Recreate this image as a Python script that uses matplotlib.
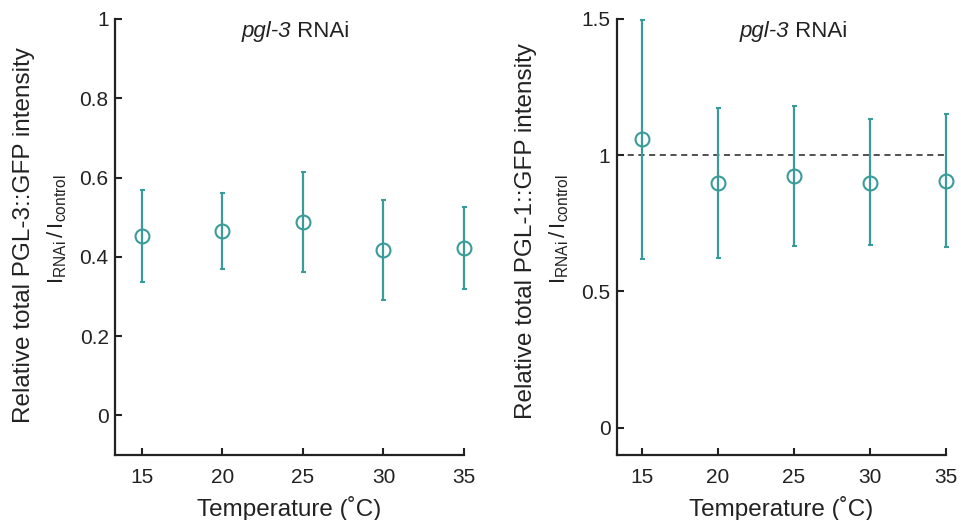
import numpy as np
import matplotlib
matplotlib.use('Agg')
import matplotlib.pyplot as plt

plt.rcParams['font.family'] = ['Liberation Sans', 'DejaVu Sans']
plt.rcParams['mathtext.fontset'] = 'custom'
plt.rcParams['mathtext.rm'] = 'Liberation Sans'
plt.rcParams['mathtext.it'] = 'Liberation Sans:italic'

# temperatures (deg C)
temps = [15, 20, 25, 30, 35]

# left panel: PGL-3::GFP, pgl-3 RNAi
pgl3_mean = [0.452, 0.465, 0.488, 0.418, 0.422]
pgl3_low = [0.336, 0.368, 0.361, 0.292, 0.319]
pgl3_high = [0.568, 0.561, 0.614, 0.543, 0.525]

# right panel: PGL-1::GFP, pgl-3 RNAi
pgl1_mean = [1.059, 0.899, 0.924, 0.899, 0.906]
pgl1_low = [0.620, 0.624, 0.668, 0.670, 0.662]
pgl1_high = [1.497, 1.175, 1.181, 1.134, 1.153]

teal = '#3a9c9a'
dark = '#222222'

fig = plt.figure(figsize=(9.62, 5.2), dpi=100)
ax1 = fig.add_axes([0.1195, 0.125, 0.3628, 0.8385])
ax2 = fig.add_axes([0.641, 0.125, 0.3423, 0.8385])


def draw_panel(ax, mean, low, high, ylim, yticks, yticklabels, title_x):
    mean = np.array(mean)
    yerr = [mean - np.array(low), np.array(high) - mean]
    ax.errorbar(temps, mean, yerr=yerr, fmt='o', color=teal, mfc='none',
                mec=teal, ms=10, mew=1.5, elinewidth=1.6, capsize=1.8,
                capthick=1.5, clip_on=False, zorder=3)
    ax.set_xlim(13.33, 35)
    ax.set_ylim(*ylim)
    ax.set_xticks(temps)
    ax.set_yticks(yticks)
    ax.set_yticklabels(yticklabels)
    for s in ['top', 'right']:
        ax.spines[s].set_visible(False)
    for s in ['left', 'bottom']:
        ax.spines[s].set_linewidth(1.6)
        ax.spines[s].set_color(dark)
    ax.tick_params(direction='in', length=5, width=1.5, colors=dark,
                   labelsize=15)
    ax.tick_params(axis='x', pad=9.5)
    ax.tick_params(axis='y', pad=4.5)
    ax.set_xlabel('Temperature (\u02daC)', fontsize=17.5, color=dark,
                  labelpad=6.5)
    # title: italic gene name + RNAi
    ax.text(title_x, 0.959, 'pgl-3', style='italic', ha='right',
            va='baseline', fontsize=16, color=dark, transform=ax.transAxes)
    ax.text(title_x, 0.959, ' RNAi', ha='left', va='baseline', fontsize=16,
            color=dark, transform=ax.transAxes)
    return ax


draw_panel(ax1, pgl3_mean, pgl3_low, pgl3_high, (-0.1, 1.0),
           [0, 0.2, 0.4, 0.6, 0.8, 1.0], ['0', '0.2', '0.4', '0.6', '0.8', '1'],
           0.504)
draw_panel(ax2, pgl1_mean, pgl1_low, pgl1_high, (-0.1, 1.5),
           [0, 0.5, 1.0, 1.5], ['0', '0.5', '1', '1.5'], 0.523)

# dashed reference line at 1
ax2.axhline(1.0, color=dark, ls=(0, (4, 3)), lw=1.1, zorder=1)

# y labels (two lines each)
ratio = r'$\mathrm{I_{RNAi}}\,/\,\mathrm{I_{control}}$'
fig.text(24 / 962, 1 - 235 / 520, 'Relative total PGL-3::GFP intensity',
         rotation=90, ha='center', va='center', fontsize=17.5, color=dark)
fig.text(57.5 / 962, 1 - 229 / 520, ratio,
         rotation=90, ha='center', va='center', fontsize=16, color=dark)
fig.text(526 / 962, 1 - 231 / 520, 'Relative total PGL-1::GFP intensity',
         rotation=90, ha='center', va='center', fontsize=17.5, color=dark)
fig.text(559 / 962, 1 - 229 / 520, ratio,
         rotation=90, ha='center', va='center', fontsize=16, color=dark)

plt.savefig('out.png', dpi=100)
